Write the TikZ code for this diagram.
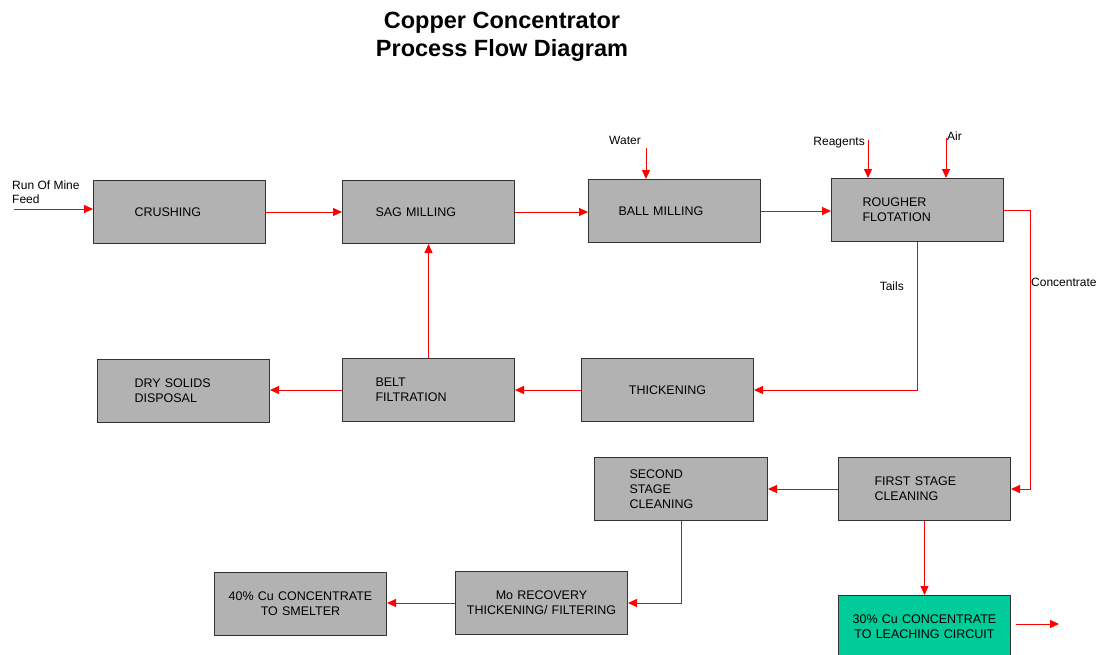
\documentclass[tikz,border=0pt]{standalone}
\usepackage{fontspec}
\setmainfont{Liberation Sans}
\usetikzlibrary{arrows.meta}
\definecolor{boxgray}{HTML}{B2B2B2}
\definecolor{leachgreen}{HTML}{00CC99}
\begin{document}
\begin{tikzpicture}[x=1pt,y=-1pt,
  unit/.style={draw=black!80,line width=1pt,fill=boxgray,anchor=north west,minimum height=63pt,inner ysep=0pt,inner xsep=33pt,text width=106pt,align=left,font=\fontsize{12.5}{15}\selectfont},
  unitc/.style={unit,inner xsep=6pt,text width=160pt,align=center},
  flow/.style={red,line width=1pt,-{Triangle[length=9pt,width=8pt]}},
  lbl/.style={inner sep=0pt,font=\fontsize{12}{14}\selectfont}]
\useasboundingbox (0,0) rectangle (1096,654);
\node[font=\bfseries\fontsize{23.5}{28}\selectfont,align=center] (title) at (502,37) {Copper Concentrator\\Process Flow Diagram};
% top row
\node[unit,inner xsep=41pt,text width=90pt] (crush) at (93,180) {CRUSHING};
\node[unit] (sag) at (342,180) {SAG MILLING};
\node[unit,inner xsep=30pt,text width=112pt] (ball) at (588,179) {BALL MILLING};
\node[unit,inner xsep=31pt,text width=110pt] (rough) at (831,178) {ROUGHER\\FLOTATION};
% middle row
\node[unit,inner xsep=37pt,text width=98pt] (dry) at (97,359) {DRY SOLIDS\\DISPOSAL};
\node[unit] (belt) at (342,358) {BELT\\FILTRATION};
\node[unitc] (thick) at (581,358) {THICKENING};
% cleaning
\node[unit,inner xsep=35pt,text width=103pt] (second) at (594,457) {SECOND\\STAGE\\CLEANING};
\node[unit,inner xsep=36pt,text width=100pt] (first) at (838,457) {FIRST STAGE\\CLEANING};
\node[unitc] (moly) at (455,571) {Mo RECOVERY\\THICKENING/ FILTERING};
\node[unitc] (smelter) at (214,572) {40\% Cu CONCENTRATE\\TO SMELTER};
\node[unitc,fill=leachgreen] (leach) at (838,595) {30\% Cu CONCENTRATE\\TO LEACHING CIRCUIT};
% feeds
\coordinate (feed) at (14,209); \coordinate (water) at (646,148);
\coordinate (reag) at (868,140); \coordinate (air) at (946,138); \coordinate (out) at (1059,624);
\node[lbl,anchor=west,align=left] (feedlbl) at (12,192) {Run Of Mine\\Feed};
\node[lbl,anchor=east] (waterlbl) at (641,140) {Water};
\node[lbl,anchor=east] (reaglbl) at (865,143) {Reagents};
\node[lbl,anchor=west] (airlbl) at (947,136) {Air};
\node[lbl,anchor=east] (tailslbl) at (904,286) {Tails};
\node[lbl,anchor=west] (conclbl) at (1031,282) {Concentrate};
% flows
\draw[flow] (feed) -- (feed -| crush.west);
\draw[flow] (crush.east) -- (sag.west);
\draw[flow] (sag.east) -- (sag.east -| ball.west);
\draw[flow] (ball.east) -- (ball.east -| rough.west);
\draw[flow] (water) -- (water |- ball.north);
\draw[flow] (reag) -- (reag |- rough.north);
\draw[flow] (air) -- (air |- rough.north);
\draw[flow] (rough.east) -- ++(26,0) |- (first.east);
\draw[flow] (rough.south) |- (thick.east);
\draw[flow] (thick.west) -- (belt.east);
\draw[flow] (belt.north) -- (sag.south);
\draw[flow] (belt.west) -- (belt.west -| dry.east);
\draw[flow] (first.west) -- (second.east);
\draw[flow] (first.south) -- (leach.north);
\draw[flow] (second.south) |- (moly.east);
\draw[flow] (moly.west) -- (moly.west -| smelter.east);
\draw[flow] ([xshift=5pt]leach.east |- out) -- (out);
\end{tikzpicture}
\end{document}
